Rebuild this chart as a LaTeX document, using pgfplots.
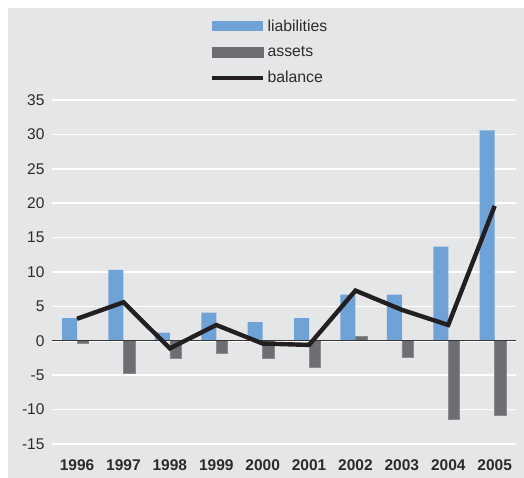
\documentclass[border=0pt]{standalone}
\usepackage{pgfplots}
\pgfplotsset{compat=1.18}
\usepackage{fontspec}
\setmainfont{Liberation Sans}
\definecolor{bg}{HTML}{E5E6E8}
\definecolor{liab}{HTML}{6FA3D8}
\definecolor{asst}{HTML}{6D6E71}
\definecolor{bal}{HTML}{231F20}
\definecolor{txt}{HTML}{2B2B2B}
\begin{document}
\begin{tikzpicture}[x=1pt,y=1pt]
\useasboundingbox (0,0) rectangle (524,478);
\fill[white] (0,0) rectangle (524,478);
\fill[bg] (8,0) rectangle (524,470);
\begin{axis}[
  at={(52pt,34pt)}, anchor=south west,
  scale only axis, width=464pt, height=344pt,
  xmin=-0.54, xmax=9.46, ymin=-15, ymax=35,
  xtick={0,...,9},
  xticklabels={1996,1997,1998,1999,2000,2001,2002,2003,2004,2005},
  ytick={-15,-10,...,35},
  ymajorgrids, grid style={white, line width=1.6pt},
  axis line style={draw=none}, major tick length=0pt,
  /pgf/number format/assume math mode=true,
  ticklabel style={font=\fontsize{15.5}{18}\selectfont, text=txt},
  xticklabel style={font=\fontsize{15.5}{18}\selectfont\bfseries, yshift=-12pt},
  yticklabel style={xshift=-4pt},
  clip=false,
  legend style={at={(0.334,1.246)}, anchor=north west, draw=none, fill=none,
    font=\fontsize{15.8}{18}\selectfont, text=txt, row sep=9.5pt,
    /tikz/every even column/.append style={column sep=1pt}},
  legend cell align=left,
]
\addplot[ybar, bar width=15pt, bar shift=-7.5pt, fill=liab, draw=none,
  legend image code/.code={\fill[liab] (0pt,-5pt) rectangle (51pt,5pt);}]
  coordinates {(0,3.3) (1,10.3) (2,1.2) (3,4.1) (4,2.7) (5,3.3) (6,6.7) (7,6.7) (8,13.7) (9,30.6)};
\addlegendentry{liabilities}
\addplot[ybar, bar width=11.5pt, bar shift=5.75pt, fill=asst, draw=asst!80!white, line width=0.6pt,
  legend image code/.code={\fill[asst] (0pt,-5pt) rectangle (51pt,5pt);}]
  coordinates {(0,-0.3) (1,-4.7) (2,-2.6) (3,-1.8) (4,-2.6) (5,-3.8) (6,0.6) (7,-2.4) (8,-11.4) (9,-10.8)};
\addlegendentry{assets}
\draw[bal!90, line width=0.9pt] (axis cs:-0.54,0) -- (axis cs:9.46,0);
\addplot[bal, line width=4.4pt, mark=none,
  legend image code/.code={\draw[bal, line width=4.4pt] (0pt,0pt) -- (51pt,0pt);}]
  coordinates {(0,3.2) (1,5.6) (2,-1.1) (3,2.3) (4,-0.4) (5,-0.6) (6,7.3) (7,4.5) (8,2.3) (9,19.6)};
\addlegendentry{balance}
\end{axis}
\end{tikzpicture}
\end{document}
